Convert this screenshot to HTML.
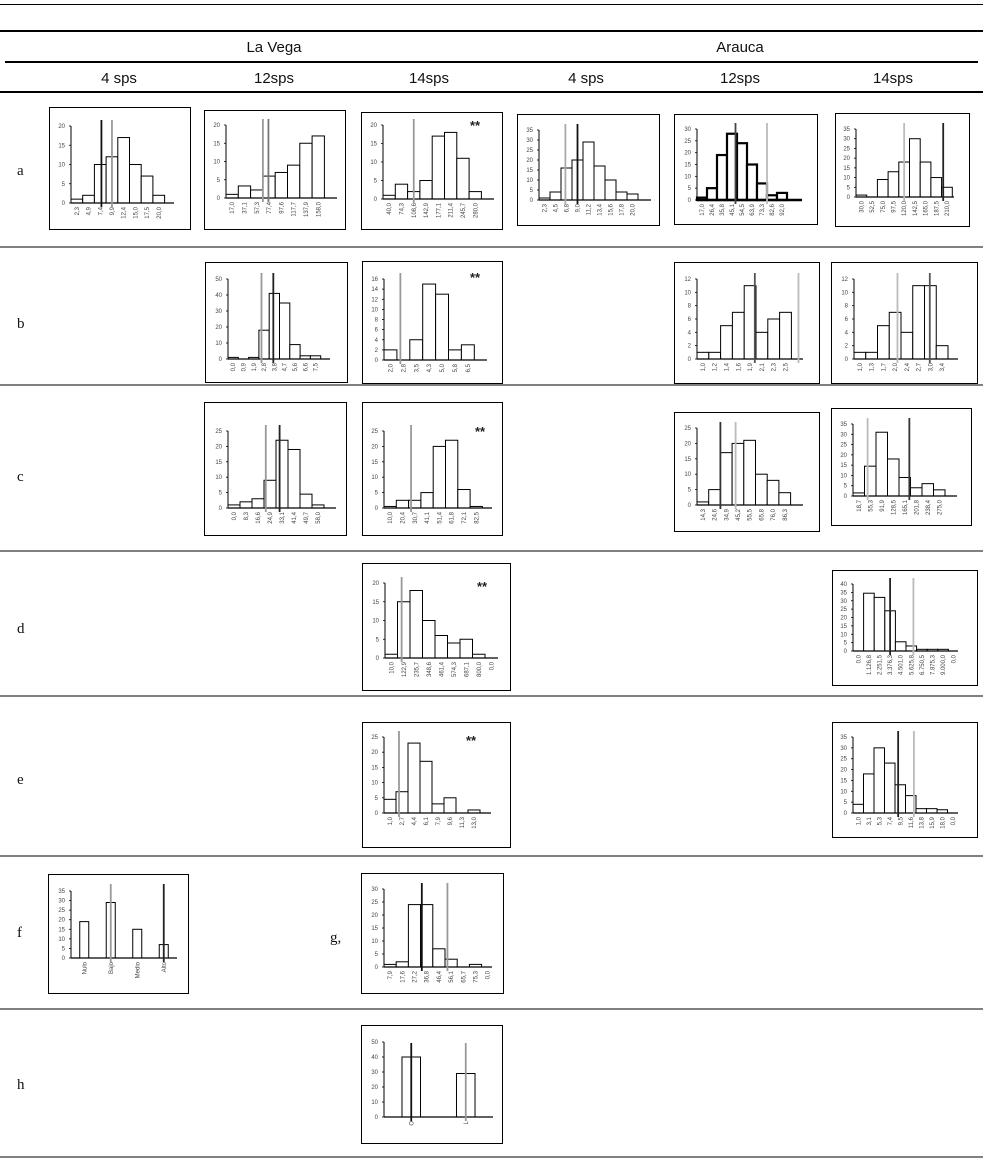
<!DOCTYPE html>
<html><head><meta charset="utf-8"><style>
html,body{margin:0;padding:0;background:#fff;}
#wrap{position:relative;width:983px;height:1161px;overflow:hidden;}
svg{position:absolute;left:0;top:0;}
text{font-family:"Liberation Sans",sans-serif;}
.hdr{font-family:"Liberation Sans",sans-serif;font-size:15px;fill:#111;}
.rl{font-family:"Liberation Serif",serif;font-size:15px;fill:#111;}
.tk{font-size:6px;fill:#444;}
</style></head><body>
<div id="wrap">
<svg id="s" width="983" height="1161" viewBox="0 0 983 1161">
<line x1="0" y1="4.5" x2="983" y2="4.5" stroke="#000" stroke-width="1"/>
<line x1="0" y1="31" x2="983" y2="31" stroke="#000" stroke-width="2"/>
<line x1="5" y1="62" x2="978" y2="62" stroke="#000" stroke-width="2"/>
<line x1="0" y1="92" x2="983" y2="92" stroke="#000" stroke-width="2"/>
<text class="hdr" x="274" y="52" text-anchor="middle">La Vega</text>
<text class="hdr" x="740" y="52" text-anchor="middle">Arauca</text>
<text class="hdr" x="119" y="83" text-anchor="middle">4 sps</text>
<text class="hdr" x="274" y="83" text-anchor="middle">12sps</text>
<text class="hdr" x="429" y="83" text-anchor="middle">14sps</text>
<text class="hdr" x="586" y="83" text-anchor="middle">4 sps</text>
<text class="hdr" x="740" y="83" text-anchor="middle">12sps</text>
<text class="hdr" x="893" y="83" text-anchor="middle">14sps</text>
<text class="rl" x="17" y="175">a</text>
<text class="rl" x="17" y="328">b</text>
<text class="rl" x="17" y="481">c</text>
<text class="rl" x="17" y="633">d</text>
<text class="rl" x="17" y="784">e</text>
<text class="rl" x="17" y="937">f</text>
<text class="rl" x="330" y="942">g,</text>
<text class="rl" x="17" y="1089">h</text>
</svg>
</div>
<script>
// ---- data ----
const a1Labels=["2,3","4,9","7,4","9,9","12,4","15,0","17,5","20,0"];
const a1Values=[1,2,10,12,17,10,7,2];
const a2Labels=["17,0","37,1","57,3","77,4","97,6","117,7","137,9","158,0"];
const a2Values=[1,3.3,2.2,6,7,9,15,17];
const a3Labels=["40,0","74,3","108,6","142,9","177,1","211,4","245,7","280,0"];
const a3Values=[1,4,2,5,17,18,11,2];
const a4Labels=["2,3","4,5","6,8","9,0","11,2","13,4","15,6","17,8","20,0"];
const a4Values=[1,4,16,20,29,17,10,4,3];
const a5Labels=["17,0","26,4","35,8","45,1","54,5","63,9","73,3","82,6","92,0"];
const a5Values=[1,5,19,28,24,15,7,2,3];
const a6Labels=["30,0","52,5","75,0","97,5","120,0","142,5","165,0","187,5","210,0"];
const a6Values=[1,0,9,13,18,30,18,10,5];
const b2Labels=["0,0","0,9","1,9","2,8","3,8","4,7","5,6","6,6","7,5"];
const b2Values=[1,0,1,18,41,35,9,2,2];
const b3Labels=["2,0","2,8","3,5","4,3","5,0","5,8","6,5"];
const b3Values=[2,0,4,15,13,2,3];
const b5Labels=["1,0","1,2","1,4","1,6","1,9","2,1","2,3","2,5"];
const b5Values=[1,1,5,7,11,4,6,7];
const b6Labels=["1,0","1,3","1,7","2,0","2,4","2,7","3,0","3,4"];
const b6Values=[1,1,5,7,4,11,11,2];
const c2Labels=["0,0","8,3","16,6","24,9","33,1","41,4","49,7","58,0"];
const c2Values=[1,2,3,9,22,19,4.5,1];
const c3Labels=["10,0","20,4","30,7","41,1","51,4","61,8","72,1","82,5"];
const c3Values=[0.5,2.5,2.5,5,20,22,6,0.5];
const c5Labels=["14,3","24,6","34,9","45,2","55,5","65,8","76,0","86,3"];
const c5Values=[1,5,17,20,21,10,8,4];
const c6Labels=["18,7","55,3","91,9","128,5","165,1","201,8","238,4","275,0"];
const c6Values=[1.5,14.5,31,18,9,4,6,3];
const d3Labels=["10,0","122,9","235,7","348,6","461,4","574,3","687,1","800,0","0,0"];
const d3Values=[1,15,18,10,6,4,5,1,0];
const d6Labels=["0,0","1.126,8","2.251,5","3.376,3","4.501,0","5.625,8","6.750,5","7.875,3","9.000,0","0,0"];
const d6Values=[0,34.5,32,24,5.5,3,1,1,1,0];
const e3Labels=["1,0","2,7","4,4","6,1","7,9","9,6","11,3","13,0"];
const e3Values=[4.5,7,23,17,3,5,0,1];
const e6Labels=["1,0","3,1","5,3","7,4","9,5","11,6","13,8","15,9","18,0","0,0"];
const e6Values=[4,18,30,23,13,8,2,2,1.5,0];
const fLabels=["Nulo","Bajo","Medio","Alto"];
const fValues=[19,29,15,7];
const gLabels=["7,9","17,6","27,2","36,8","46,4","56,1","65,7","75,3","0,0"];
const gValues=[1,2,24,24,7,3,0,1,0];
const hLabels=["O","L"];
const hValues=[40,29];
// reference lines (position in bin units)
const a1Lines=[2.6,3.5], a2Lines=[3.0,3.45], a3Lines=[2.5], a4Lines=[2.4,3.5], a5Lines=[3.85,7.0], a6Lines=[4.5,8.15];
const b2Lines=[3.25,4.4], b3Lines=[1.27], b5Lines=[4.9,8.6], b6Lines=[3.7,6.45];
const c2Lines=[3.15,4.3], c3Lines=[2.2], c5Lines=[2.0,3.3], c6Lines=[1.27,4.9];
const d3Lines=[1.33], d6Lines=[3.5,5.7], e3Lines=[1.25], e6Lines=[4.3,5.8];
const fLines=[1.5,3.5], gLines=[3.1,5.2], hLines=[0.5,1.5];
// ---- chart configs (geometry + styling) ----
const charts=[
{id:"a1",L:a1Labels,V:a1Values,R:a1Lines,C:["#111","#999"],max:20,step:5,box:[49,107,141,122],ax:71,top:126,base:203,slot:11.7,xend:174},
{id:"a2",L:a2Labels,V:a2Values,R:a2Lines,C:["#999","#777"],max:20,step:5,box:[204,110,141,119],ax:226,top:125,base:198,slot:12.3,xend:337},
{id:"a3",L:a3Labels,V:a3Values,R:a3Lines,C:["#999"],max:20,step:5,box:[361,112,141,117],ax:383,top:125,base:199,slot:12.3,xend:494,star:[470,130]},
{id:"a4",L:a4Labels,V:a4Values,R:a4Lines,C:["#aaa","#111"],max:35,step:5,box:[517,114,142,111],ax:539,top:130,base:200,slot:11,xend:651},
{id:"a5",L:a5Labels,V:a5Values,R:a5Lines,C:["#444","#bbb"],max:30,step:5,box:[674,114,143,110],ax:697,top:129,base:200,slot:10,xend:802,thick:true},
{id:"a6",L:a6Labels,V:a6Values,R:a6Lines,C:["#bbb","#222"],max:35,step:5,box:[835,113,134,113],ax:856,top:129,base:197,slot:10.7,xend:954},
{id:"b2",L:b2Labels,V:b2Values,R:b2Lines,C:["#999","#222"],max:50,step:10,box:[205,262,142,120],ax:228,top:279,base:359,slot:10.3,xend:330},
{id:"b3",L:b3Labels,V:b3Values,R:b3Lines,C:["#999"],max:16,step:2,box:[362,261,140,122],ax:384,top:279,base:360,slot:12.9,xend:487,star:[470,282]},
{id:"b5",L:b5Labels,V:b5Values,R:b5Lines,C:["#555","#bbb"],max:12,step:2,box:[674,262,145,121],ax:697,top:279,base:359,slot:11.8,xend:803},
{id:"b6",L:b6Labels,V:b6Values,R:b6Lines,C:["#bbb","#555"],max:12,step:2,box:[831,262,146,121],ax:854,top:279,base:359,slot:11.75,xend:958},
{id:"c2",L:c2Labels,V:c2Values,R:c2Lines,C:["#999","#222"],max:25,step:5,box:[204,402,142,133],ax:228,top:431,base:508,slot:12,xend:336},
{id:"c3",L:c3Labels,V:c3Values,R:c3Lines,C:["#999"],max:25,step:5,box:[362,402,140,133],ax:384,top:431,base:508,slot:12.3,xend:492,star:[475,436]},
{id:"c5",L:c5Labels,V:c5Values,R:c5Lines,C:["#333","#bbb"],max:25,step:5,box:[674,412,145,119],ax:697,top:428,base:505,slot:11.7,xend:803},
{id:"c6",L:c6Labels,V:c6Values,R:c6Lines,C:["#bbb","#333"],max:35,step:5,box:[831,408,140,117],ax:853,top:424,base:496,slot:11.5,xend:957},
{id:"d3",L:d3Labels,V:d3Values,R:d3Lines,C:["#999"],max:20,step:5,box:[362,563,148,127],ax:385,top:583,base:658,slot:12.5,xend:498,star:[477,591]},
{id:"d6",L:d6Labels,V:d6Values,R:d6Lines,C:["#222","#bbb"],max:40,step:5,box:[832,570,145,115],ax:853,top:584,base:651,slot:10.6,xend:958},
{id:"e3",L:e3Labels,V:e3Values,R:e3Lines,C:["#999"],max:25,step:5,box:[362,722,148,125],ax:384,top:737,base:813,slot:12,xend:491,star:[466,745]},
{id:"e6",L:e6Labels,V:e6Values,R:e6Lines,C:["#222","#bbb"],max:35,step:5,box:[832,722,145,115],ax:853,top:737,base:813,slot:10.5,xend:958},
{id:"f",L:fLabels,V:fValues,R:fLines,C:["#999","#222"],max:35,step:5,box:[48,874,140,119],ax:71,top:891,base:958,slot:26.5,xend:177,cat:true,lineTop:884},
{id:"g",L:gLabels,V:gValues,R:gLines,C:["#111","#999"],max:30,step:5,box:[361,873,142,120],ax:384,top:889,base:967,slot:12.2,xend:492},
{id:"h",L:hLabels,V:hValues,R:hLines,C:["#111","#999"],max:50,step:10,box:[361,1025,141,118],ax:384,top:1042,base:1117,slot:54.5,xend:493,cat:true,lineTop:1043}
];
const rowRules=[247,385,551,696,856,1009,1157];
const NS="http://www.w3.org/2000/svg";
const svg=document.getElementById("s");
function mk(tag,attrs,parent){const e=document.createElementNS(NS,tag);for(const k in attrs)e.setAttribute(k,attrs[k]);(parent||svg).appendChild(e);return e;}
rowRules.forEach((y,i)=>{
  const l=mk("line",{x1:0,y1:y,x2:983,y2:y,stroke:"#000","stroke-width":1});
  
  
});
charts.forEach(c=>{
  const g=mk("g",{});
  
  
  const [bx,by,bw,bh]=c.box;
  const frame=mk("rect",{x:bx+0.5,y:by+0.5,width:bw,height:bh,fill:"#fff",stroke:"#000","stroke-width":1},g);
  
  
  const yS=v=>c.base-(v/c.max)*(c.base-c.top);
  const xS=p=>c.ax+p*c.slot;
  for(let v=0;v<=c.max+1e-9;v+=c.step){
    const y=yS(v);
    const t=mk("line",{x1:c.ax-2,y1:y,x2:c.ax,y2:y,stroke:"#000","stroke-width":0.8},g);
    
    
    const tl=mk("text",{x:c.ax-6,y:y+2,"text-anchor":"end",class:"tk"},g);
    tl.textContent=String(v);
    
    
  }
  c.V.forEach((v,i)=>{
    let x,w;
    if(c.cat){w=c.slot*0.34;x=xS(i+0.5)-w/2;}else{x=xS(i);w=c.slot;}
    if(v>0){
      const r=mk("rect",{x:x,y:yS(v),width:w,height:c.base-yS(v),fill:"#fff",stroke:"#000","stroke-width":c.thick?2.2:1},g);
      
      
    }
    const lb=mk("text",{class:"tk","text-anchor":"end",transform:"translate("+(xS(i+0.5)+2)+","+(c.base+4)+") rotate(-90)"},g);
    lb.textContent=c.L[i];
    
    
  });
  const ya=mk("line",{x1:c.ax,y1:c.top,x2:c.ax,y2:c.base,stroke:"#000","stroke-width":1},g);
  
  
  const xa=mk("line",{x1:c.ax,y1:c.base,x2:c.xend,y2:c.base,stroke:"#000","stroke-width":c.thick?2.5:1.2},g);
  
  
  c.R.forEach((p,i)=>{
    const lt=c.lineTop!==undefined?c.lineTop:c.top-6;
    const rl=mk("line",{x1:xS(p),y1:lt,x2:xS(p),y2:c.base+4,stroke:c.C[i],"stroke-width":1.8},g);
    
    
  });
  if(c.star){
    const st=mk("text",{x:c.star[0],y:c.star[1],"font-size":"13","font-weight":"bold",fill:"#222"},g);
    st.textContent="**";
    
    
  }
});
</script>
</body></html>
